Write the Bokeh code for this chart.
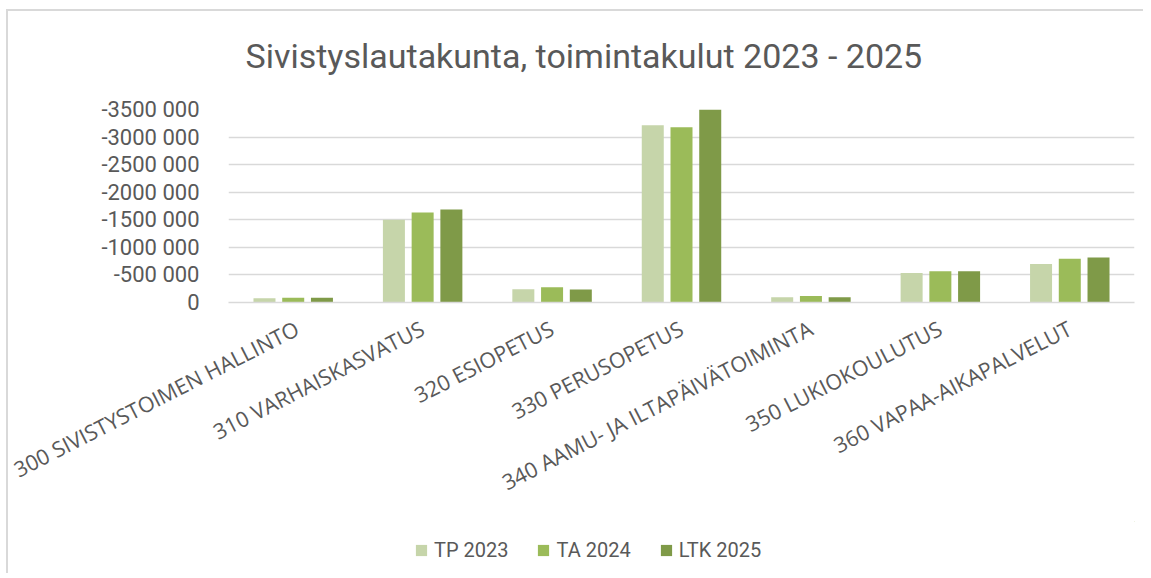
from bokeh.plotting import figure
from bokeh.layouts import column
from bokeh.models import (ColumnDataSource, FactorRange, Range1d, FixedTicker,
                          CustomJSTickFormatter, Legend, LegendItem, Label)
from bokeh.transform import dodge
from bokeh.embed import file_html
from bokeh.resources import INLINE
import math

categories = ["300 SIVISTYSTOIMEN HALLINTO", "310 VARHAISKASVATUS", "320 ESIOPETUS",
              "330 PERUSOPETUS", "340 AAMU- JA ILTAPÄIVÄTOIMINTA", "350 LUKIOKOULUTUS",
              "360 VAPAA-AIKAPALVELUT"]
tp_2023 = [-75000, -1500000, -240000, -3215000, -95000, -535000, -700000]
ta_2024 = [-85000, -1630000, -275000, -3180000, -120000, -565000, -795000]
ltk_2025 = [-85000, -1685000, -235000, -3500000, -95000, -565000, -815000]
series_names = ["TP 2023", "TA 2024", "LTK 2025"]
series_colors = ["#c6d5aa", "#9bbb59", "#7f9a48"]
y_ticks = [0, -500000, -1000000, -1500000, -2000000, -2500000, -3000000, -3500000]
title_text = "Sivistyslautakunta, toimintakulut 2023 - 2025"

GREY = "#595959"

def strip(height, x_end, y_end):
    f = figure(width=1135, height=height, x_range=Range1d(0, x_end), y_range=Range1d(0, y_end),
               x_axis_type=None, y_axis_type=None, output_backend="svg", toolbar_location=None,
               min_border_left=0, min_border_right=0, min_border_top=0, min_border_bottom=0)
    f.outline_line_color = None
    f.xgrid.grid_line_color = None
    f.ygrid.grid_line_color = None
    return f

# title strip
tfig = strip(70, 906, 70)
tfig.add_layout(Label(x=17, y=26, text=title_text, text_font="Roboto", text_font_size="34px",
                      text_color=GREY, text_baseline="alphabetic", text_align="left"))

# main chart
source = ColumnDataSource(dict(cat=categories, tp=tp_2023, ta=ta_2024, ltk=ltk_2025))

p = figure(width=1135, height=440, x_range=FactorRange(*categories),
           y_range=Range1d(start=0, end=-3500000),
           output_backend="svg", toolbar_location=None,
           min_border_left=220, min_border_right=9, min_border_top=28, min_border_bottom=219)
p.outline_line_color = None
p.background_fill_color = "white"
p.border_fill_color = "white"

for col, off, color in zip(["tp", "ta", "ltk"], [-0.222, 0.0, 0.222], series_colors):
    p.vbar(x=dodge("cat", off, range=p.x_range), top=col, bottom=0, width=0.17,
           source=source, fill_color=color, line_color=None)

p.yaxis.ticker = FixedTicker(ticks=y_ticks)
p.yaxis.formatter = CustomJSTickFormatter(code="""
const v = Math.round(tick);
if (v === 0) return "0";
const s = Math.abs(v).toString();
const head = s.slice(0, s.length - 3), tail = s.slice(-3);
return (v < 0 ? "-" : "") + head + " " + tail;
""")
p.yaxis.axis_line_color = None
p.yaxis.major_tick_line_color = None
p.yaxis.minor_tick_line_color = None
p.yaxis.major_label_standoff = 23
p.yaxis.major_label_text_font = "Roboto"
p.yaxis.major_label_text_font_size = "22px"
p.yaxis.major_label_text_color = GREY

p.ygrid.grid_line_color = "#d9d9d9"
p.ygrid.grid_line_width = 1.5
p.xgrid.grid_line_color = None

p.xaxis.axis_line_color = "#d9d9d9"
p.xaxis.axis_line_width = 1.5
p.xaxis.major_tick_line_color = None
p.xaxis.minor_tick_line_color = None
p.xaxis.major_label_orientation = math.radians(27)
p.xaxis.major_label_standoff = 18
p.xaxis.major_label_text_font = "Open Sans"
p.xaxis.major_label_text_font_size = "21.5px"
p.xaxis.major_label_text_color = GREY

# legend strip
lp = strip(52, 1, 1)
dummy = [lp.vbar(x=[5], top=[5], bottom=[4], width=0.5, fill_color=c, line_color=None)
         for c in series_colors]
legend = Legend(items=[LegendItem(label=n, renderers=[r]) for n, r in zip(series_names, dummy)],
                orientation="horizontal", location=(186, 11),
                glyph_width=14, glyph_height=14, label_standoff=6, spacing=28,
                padding=0, margin=0, border_line_color=None, background_fill_alpha=0,
                label_text_font="Roboto", label_text_font_size="20px", label_text_color=GREY,
                label_height=20)
lp.add_layout(legend, "center")

layout = column(tfig, p, lp, spacing=0,
                styles={"margin-left": "6px", "margin-top": "9px",
                        "border-left": "2px solid #d9d9d9", "border-top": "2px solid #d9d9d9"})

open("out.html", "w").write(file_html(layout, INLINE))
